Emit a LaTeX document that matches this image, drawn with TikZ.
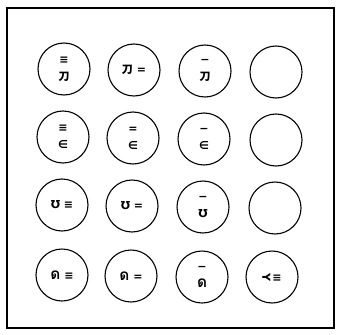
\documentclass[tikz,border=0pt]{standalone}
\usepackage{fontspec}
\usepackage{graphicx}
\setmainfont{DejaVu Sans}
\newfontfamily\cjk{Noto Sans CJK SC}
\newfontfamily\thaifont[Script=Thai,Scale=1.4]{Loma}
\usetikzlibrary{positioning}

\begin{document}
\begin{tikzpicture}[x=1pt, y=-1pt,
    cell/.style={draw, circle, line width=1.1pt, minimum size=52pt, inner sep=0pt, align=center,
                 font=\fontsize{11}{17}\selectfont\bfseries},
    frame/.style={draw, line width=1.1pt}
]
\useasboundingbox (0,0) rectangle (339,334);
\draw[frame] (7,8) rectangle (334,328);

% row 1
\node[cell] (ka3) at (64,69) {≡\\{\cjk 刀}};
\node[cell] (ka2) at (134,70) {{\cjk 刀} =};
\node[cell] (ka1) at (205,71) {−\\{\cjk 刀}};
\node[cell] (ka0) at (276,72) {};

% row 2
\node[cell] (el3) at (63,137) {≡\\∈};
\node[cell] (el2) at (133,138) {=\\∈};
\node[cell] (el1) at (204,139) {−\\∈};
\node[cell] (el0) at (276,140) {};

% row 3
\node[cell] (up3) at (62,205) {Ʊ ≡};
\node[cell] (up2) at (132,206) {Ʊ =};
\node[cell] (up1) at (203,207) {−\\Ʊ};
\node[cell] (up0) at (275,208) {};

% row 4
\node[cell] (do3) at (62,275) {{\thaifont ด} ≡};
\node[cell] (do2) at (131,276) {{\thaifont ด} =};
\node[cell] (do1) at (202,277) {−\\{\thaifont ด}};
\node[cell] (yy3) at (272,277) {\rotatebox[origin=c]{-90}{Y}\,≡};
\end{tikzpicture}
\end{document}
